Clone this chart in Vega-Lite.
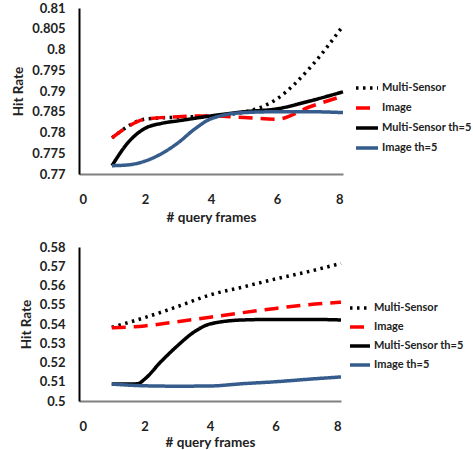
{
  "$schema": "https://vega.github.io/schema/vega-lite/v6.json",
  "padding": {"left": 11, "top": 2, "right": 0, "bottom": 0},
  "autosize": {"type": "pad"},
  "background": "white",
  "config": {
    "view": {"stroke": null},
    "font": "Lato",
    "axis": {"labelFont": "Lato", "labelFontWeight": "bold", "labelFontSize": 13, "labelColor": "#222222", "titleFont": "Lato", "titleFontWeight": "bold", "titleFontSize": 13.5, "titleColor": "#222222", "ticks": false, "grid": false}
  },
  "datasets": {
    "top": [
      {"series": "Multi-Sensor", "x": 1, "y": 0.7787},
      {"series": "Multi-Sensor", "x": 2, "y": 0.7832},
      {"series": "Multi-Sensor", "x": 3, "y": 0.7837},
      {"series": "Multi-Sensor", "x": 4, "y": 0.784},
      {"series": "Multi-Sensor", "x": 5, "y": 0.7849},
      {"series": "Multi-Sensor", "x": 6, "y": 0.7881},
      {"series": "Multi-Sensor", "x": 7, "y": 0.7956},
      {"series": "Multi-Sensor", "x": 8, "y": 0.8057},
      {"series": "Image", "x": 1, "y": 0.7787},
      {"series": "Image", "x": 1.5, "y": 0.7815},
      {"series": "Image", "x": 2, "y": 0.7832},
      {"series": "Image", "x": 3, "y": 0.7838},
      {"series": "Image", "x": 4, "y": 0.784},
      {"series": "Image", "x": 5, "y": 0.7836},
      {"series": "Image", "x": 6, "y": 0.7832},
      {"series": "Image", "x": 7, "y": 0.7862},
      {"series": "Image", "x": 8, "y": 0.7888},
      {"series": "Multi-Sensor th=5", "x": 1, "y": 0.772},
      {"series": "Multi-Sensor th=5", "x": 1.5, "y": 0.7777},
      {"series": "Multi-Sensor th=5", "x": 2, "y": 0.781},
      {"series": "Multi-Sensor th=5", "x": 2.5, "y": 0.7822},
      {"series": "Multi-Sensor th=5", "x": 3, "y": 0.7828},
      {"series": "Multi-Sensor th=5", "x": 4, "y": 0.784},
      {"series": "Multi-Sensor th=5", "x": 5, "y": 0.785},
      {"series": "Multi-Sensor th=5", "x": 6, "y": 0.7857},
      {"series": "Multi-Sensor th=5", "x": 7, "y": 0.7876},
      {"series": "Multi-Sensor th=5", "x": 8, "y": 0.7898},
      {"series": "Image th=5", "x": 1, "y": 0.772},
      {"series": "Image th=5", "x": 1.5, "y": 0.7722},
      {"series": "Image th=5", "x": 2, "y": 0.7731},
      {"series": "Image th=5", "x": 2.5, "y": 0.7749},
      {"series": "Image th=5", "x": 3, "y": 0.7775},
      {"series": "Image th=5", "x": 3.5, "y": 0.7808},
      {"series": "Image th=5", "x": 4, "y": 0.7833},
      {"series": "Image th=5", "x": 5, "y": 0.7848},
      {"series": "Image th=5", "x": 6, "y": 0.785},
      {"series": "Image th=5", "x": 7, "y": 0.785},
      {"series": "Image th=5", "x": 8, "y": 0.7848}
    ],
    "bottom": [
      {"series": "Multi-Sensor", "x": 1, "y": 0.5383},
      {"series": "Multi-Sensor", "x": 2, "y": 0.5433},
      {"series": "Multi-Sensor", "x": 3, "y": 0.549},
      {"series": "Multi-Sensor", "x": 4, "y": 0.5551},
      {"series": "Multi-Sensor", "x": 5, "y": 0.5592},
      {"series": "Multi-Sensor", "x": 6, "y": 0.5634},
      {"series": "Multi-Sensor", "x": 7, "y": 0.5672},
      {"series": "Multi-Sensor", "x": 8, "y": 0.5715},
      {"series": "Image", "x": 1, "y": 0.538},
      {"series": "Image", "x": 2, "y": 0.539},
      {"series": "Image", "x": 3, "y": 0.5412},
      {"series": "Image", "x": 4, "y": 0.5435},
      {"series": "Image", "x": 5, "y": 0.5459},
      {"series": "Image", "x": 6, "y": 0.5481},
      {"series": "Image", "x": 7, "y": 0.55},
      {"series": "Image", "x": 8, "y": 0.5513},
      {"series": "Multi-Sensor th=5", "x": 1, "y": 0.5088},
      {"series": "Multi-Sensor th=5", "x": 1.5, "y": 0.5088},
      {"series": "Multi-Sensor th=5", "x": 1.8, "y": 0.509},
      {"series": "Multi-Sensor th=5", "x": 2, "y": 0.5113},
      {"series": "Multi-Sensor th=5", "x": 2.5, "y": 0.5204},
      {"series": "Multi-Sensor th=5", "x": 3, "y": 0.5286},
      {"series": "Multi-Sensor th=5", "x": 3.5, "y": 0.5357},
      {"series": "Multi-Sensor th=5", "x": 4, "y": 0.54},
      {"series": "Multi-Sensor th=5", "x": 5, "y": 0.5421},
      {"series": "Multi-Sensor th=5", "x": 6, "y": 0.5424},
      {"series": "Multi-Sensor th=5", "x": 7, "y": 0.5424},
      {"series": "Multi-Sensor th=5", "x": 8, "y": 0.5421},
      {"series": "Image th=5", "x": 1, "y": 0.5088},
      {"series": "Image th=5", "x": 2, "y": 0.5079},
      {"series": "Image th=5", "x": 3, "y": 0.5077},
      {"series": "Image th=5", "x": 4, "y": 0.5078},
      {"series": "Image th=5", "x": 5, "y": 0.509},
      {"series": "Image th=5", "x": 6, "y": 0.51},
      {"series": "Image th=5", "x": 7, "y": 0.5113},
      {"series": "Image th=5", "x": 8, "y": 0.5125}
    ]
  },
  "spacing": 17,
  "bounds": "full",
  "resolve": {
    "scale": {"color": "independent", "strokeDash": "independent", "x": "independent", "y": "independent"},
    "legend": {"color": "independent", "strokeDash": "independent"}
  },
  "vconcat": [
    {
      "width": 264,
      "height": 166,
      "data": {"name": "top"},
      "mark": {"type": "line", "interpolate": "monotone", "strokeWidth": 3.5},
      "encoding": {
        "x": {"field": "x", "type": "quantitative", "scale": {"domain": [0, 8], "nice": false},
          "axis": {"values": [0, 2, 4, 6, 8], "title": "# query frames", "labelPadding": 19, "titlePadding": 4, "domainColor": "#808080", "domainWidth": 2}},
        "y": {"field": "y", "type": "quantitative", "scale": {"domain": [0.77, 0.81], "nice": false, "zero": false},
          "axis": {"values": [0.77, 0.775, 0.78, 0.785, 0.79, 0.795, 0.8, 0.805, 0.81], "format": "~g", "title": "Hit  Rate", "labelPadding": 14, "titlePadding": 6, "domainColor": "#000000", "domainWidth": 2}},
        "color": {"field": "series", "type": "nominal",
          "scale": {"domain": ["Multi-Sensor", "Image", "Multi-Sensor th=5", "Image th=5"], "range": ["#000000", "#FF0000", "#000000", "#355C8C"]},
          "legend": {"title": null, "orient": "none", "legendX": 275, "legendY": 67, "symbolType": "stroke", "symbolSize": 484, "symbolStrokeWidth": 3.5, "labelFont": "Lato", "labelFontWeight": "bold", "labelFontSize": 11, "labelColor": "#222222", "rowPadding": -1, "labelOffset": 2}},
        "strokeDash": {"field": "series", "type": "nominal",
          "scale": {"domain": ["Multi-Sensor", "Image", "Multi-Sensor th=5", "Image th=5"], "range": [[2.5, 4.5], [14, 8], [1, 0], [1, 0]]},
          "legend": {"title": null, "orient": "none", "legendX": 275, "legendY": 67, "symbolType": "stroke", "symbolSize": 484, "symbolStrokeWidth": 3.5, "labelFont": "Lato", "labelFontWeight": "bold", "labelFontSize": 11, "labelColor": "#222222", "rowPadding": -1, "labelOffset": 2}}
      }
    },
    {
      "width": 262,
      "height": 154,
      "data": {"name": "bottom"},
      "mark": {"type": "line", "interpolate": "monotone", "strokeWidth": 3.5},
      "encoding": {
        "x": {"field": "x", "type": "quantitative", "scale": {"domain": [0, 8], "nice": false},
          "axis": {"values": [0, 2, 4, 6, 8], "title": "# query frames", "labelPadding": 19, "titlePadding": 2, "domainColor": "#808080", "domainWidth": 2}},
        "y": {"field": "y", "type": "quantitative", "scale": {"domain": [0.5, 0.58], "nice": false, "zero": false},
          "axis": {"values": [0.5, 0.51, 0.52, 0.53, 0.54, 0.55, 0.56, 0.57, 0.58], "format": "~g", "title": "Hit Rate", "labelPadding": 14, "titlePadding": 6, "domainColor": "#000000", "domainWidth": 2}},
        "color": {"field": "series", "type": "nominal",
          "scale": {"domain": ["Multi-Sensor", "Image", "Multi-Sensor th=5", "Image th=5"], "range": ["#000000", "#FF0000", "#000000", "#355C8C"]},
          "legend": {"title": null, "orient": "none", "legendX": 269, "legendY": 49, "symbolType": "stroke", "symbolSize": 400, "symbolStrokeWidth": 3.5, "labelFont": "Lato", "labelFontWeight": "bold", "labelFontSize": 11, "labelColor": "#222222", "rowPadding": -1, "labelOffset": 2}},
        "strokeDash": {"field": "series", "type": "nominal",
          "scale": {"domain": ["Multi-Sensor", "Image", "Multi-Sensor th=5", "Image th=5"], "range": [[2.5, 4.5], [14, 8], [1, 0], [1, 0]]},
          "legend": {"title": null, "orient": "none", "legendX": 269, "legendY": 49, "symbolType": "stroke", "symbolSize": 400, "symbolStrokeWidth": 3.5, "labelFont": "Lato", "labelFontWeight": "bold", "labelFontSize": 11, "labelColor": "#222222", "rowPadding": -1, "labelOffset": 2}}
      }
    }
  ]
}
